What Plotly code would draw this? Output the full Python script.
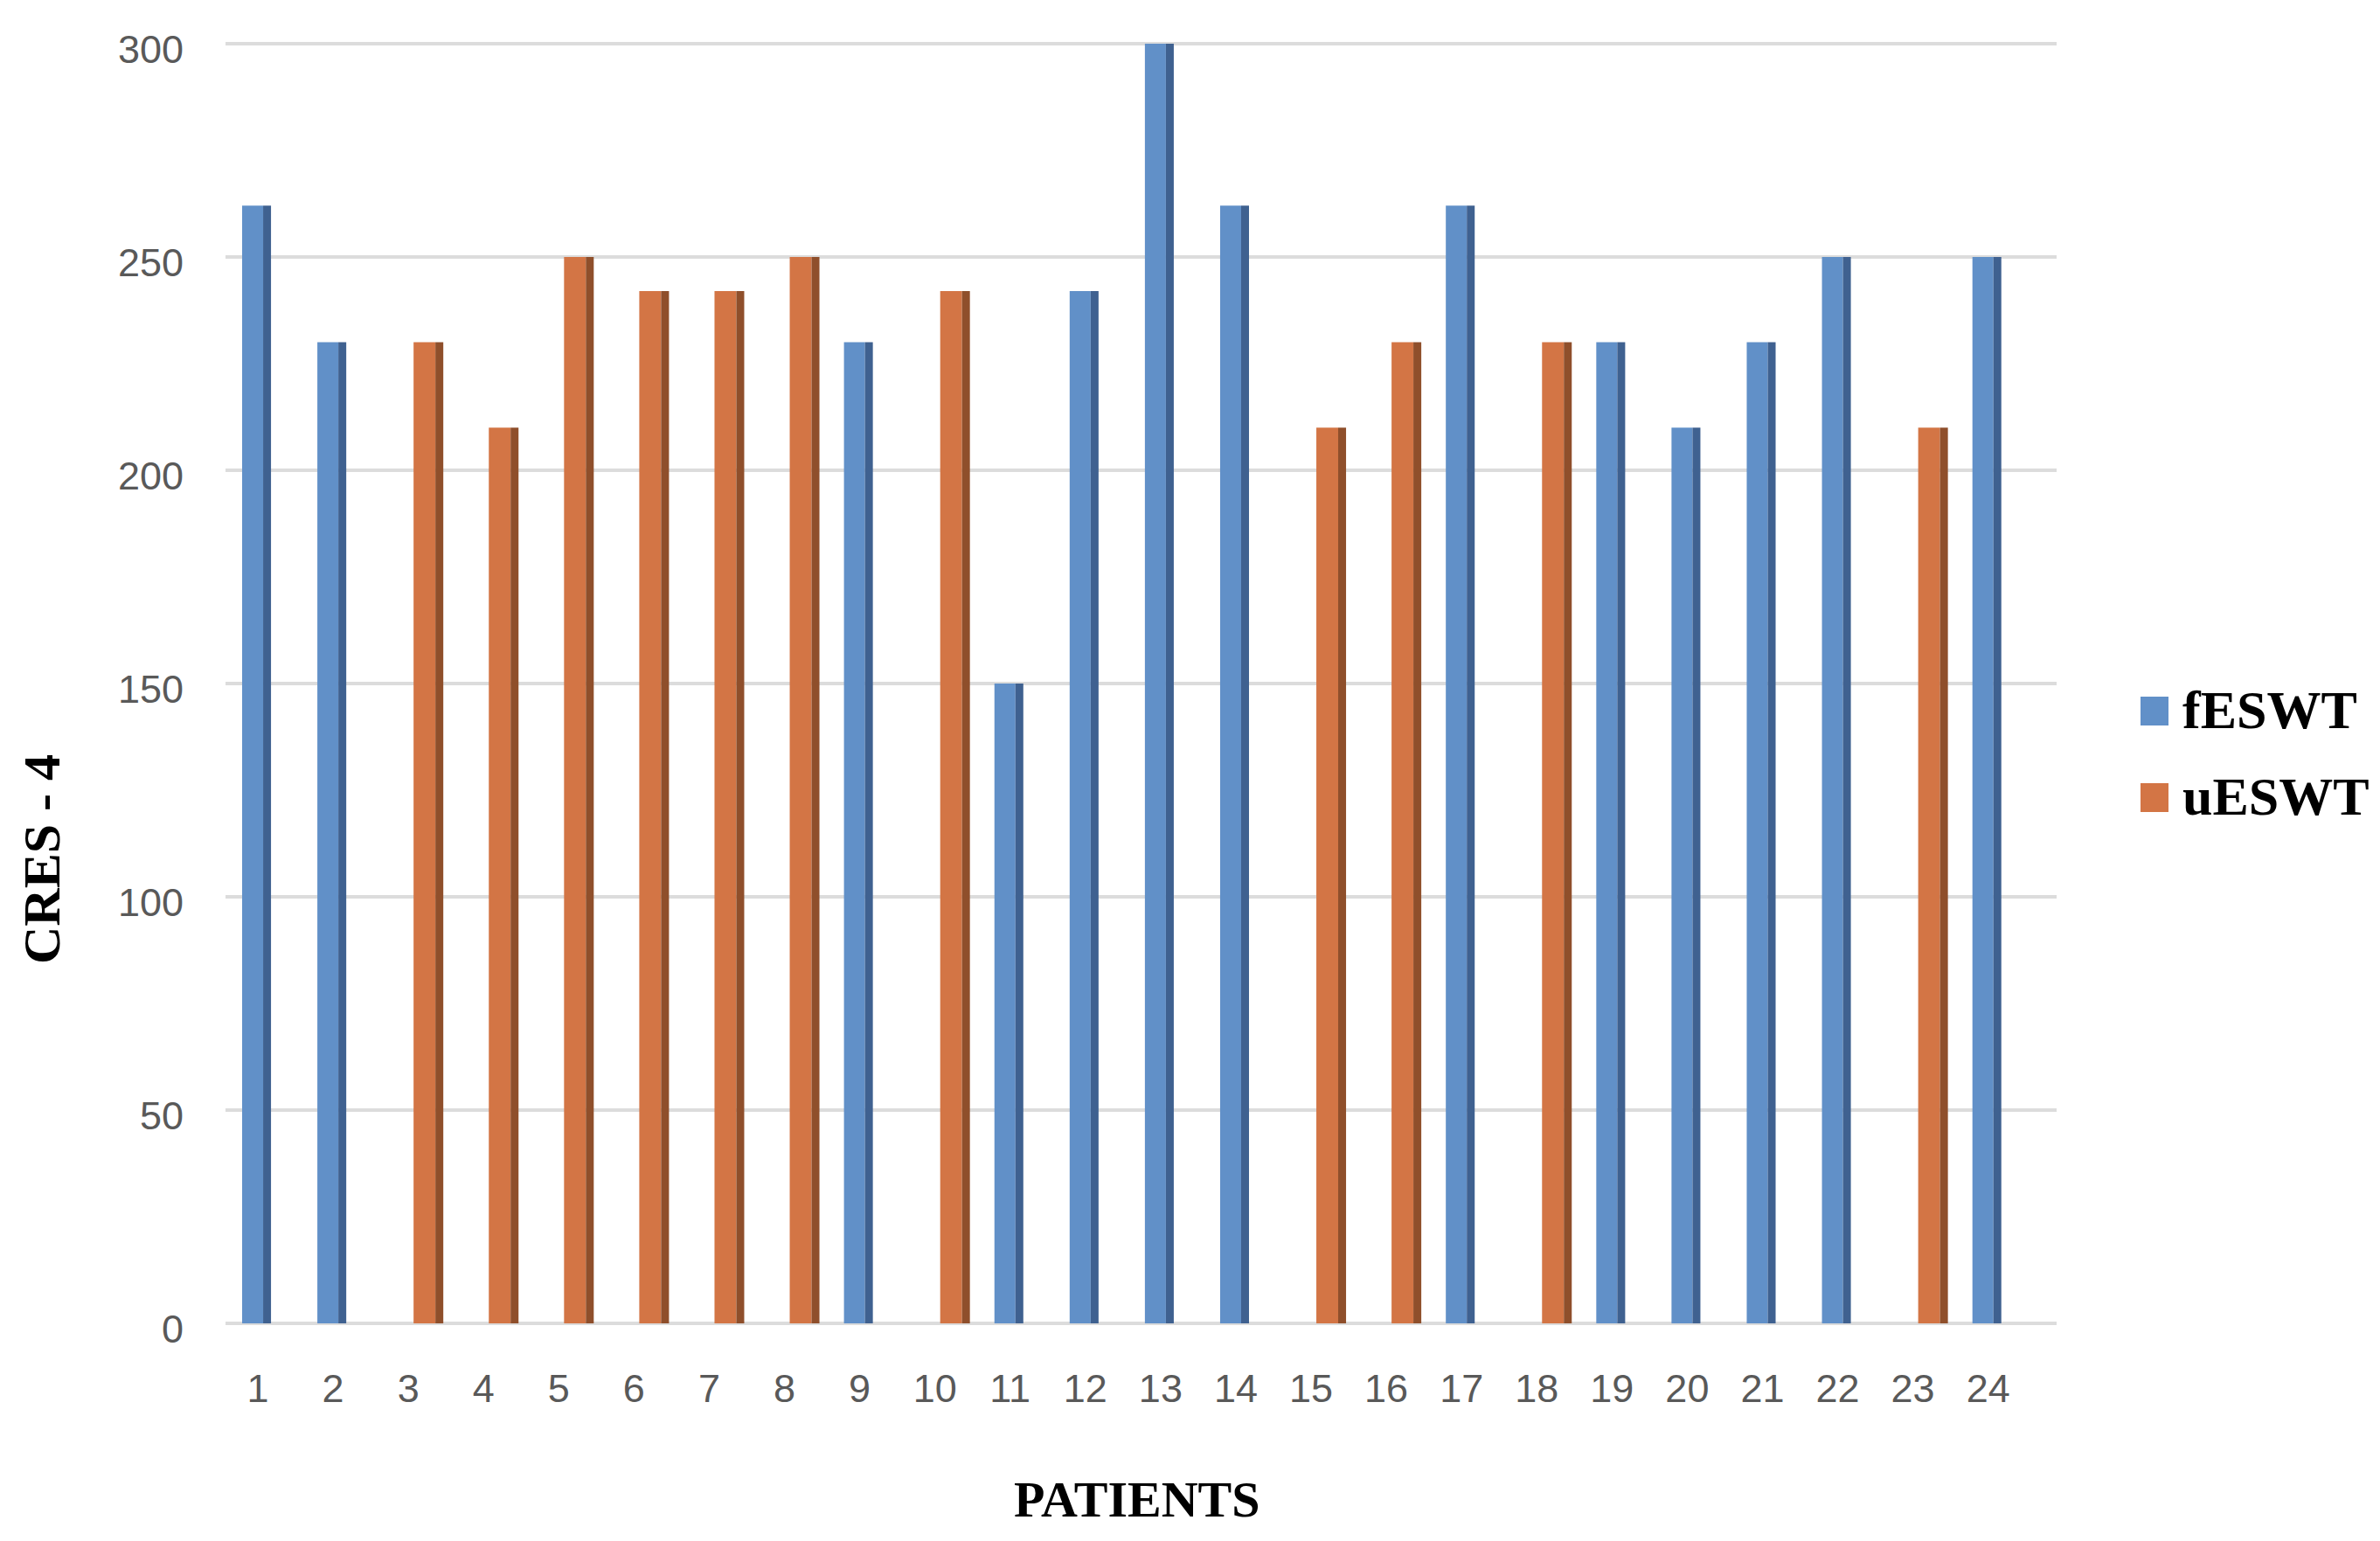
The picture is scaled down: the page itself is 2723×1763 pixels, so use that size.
import plotly.graph_objects as go

patients = list(range(1, 25))
series_names = ["fESWT", "uESWT"]
fESWT = [262, 230, 0, 0, 0, 0, 0, 0, 230, 0, 150, 242, 300, 262, 0, 0, 262, 0, 230, 210, 230, 250, 0, 250]
uESWT = [0, 0, 230, 210, 250, 242, 242, 250, 0, 242, 0, 0, 0, 0, 210, 230, 0, 230, 0, 0, 0, 0, 210, 0]
y_ticks = [0, 50, 100, 150, 200, 250, 300]
x_title = "PATIENTS"
y_title = "CRES - 4"

front_colors = ["#6190c8", "#d37545"]
side_colors = ["#3f6190", "#8f4f2b"]

fig = go.Figure()
# front faces
fig.add_trace(go.Bar(x=patients, y=fESWT, name=series_names[0], offset=-0.209, width=0.279,
                     marker=dict(color=front_colors[0], line=dict(width=0)), showlegend=False))
fig.add_trace(go.Bar(x=patients, y=uESWT, name=series_names[1], offset=0.07, width=0.29,
                     marker=dict(color=front_colors[1], line=dict(width=0)), showlegend=False))
# side faces (3D look)
fig.add_trace(go.Bar(x=patients, y=fESWT, name=series_names[0], offset=0.07, width=0.105,
                     marker=dict(color=side_colors[0], line=dict(width=0)), showlegend=False, hoverinfo="skip"))
fig.add_trace(go.Bar(x=patients, y=uESWT, name=series_names[1], offset=0.36, width=0.105,
                     marker=dict(color=side_colors[1], line=dict(width=0)), showlegend=False, hoverinfo="skip"))

W, H = 2723, 1763
L, R, T, B = 250, 2723 - 2345, 38, 1763 - 1510
pw, ph = W - L - R, H - T - B

def px(xp):
    return (xp - L) / pw

def py(yp):
    return (H - B - yp) / ph

shapes = []
annotations = []
legend_rows = [(789, 822, 804), (888, 921, 903)]
for i, name in enumerate(series_names):
    y0, y1, yc = legend_rows[i]
    shapes.append(dict(type="rect", xref="paper", yref="paper",
                       x0=px(2441), x1=px(2473), y0=py(y1), y1=py(y0),
                       fillcolor=front_colors[i], line=dict(width=0)))
    annotations.append(dict(text=name, xref="paper", yref="paper", x=px(2487), y=py(yc),
                            xanchor="left", yanchor="middle", showarrow=False,
                            font=dict(family="Liberation Serif", size=62, color="#000000", weight="bold")))

annotations.append(dict(text="<b>" + x_title + "</b>", xref="paper", yref="paper", x=px(1292), y=py(1707),
                        xanchor="center", yanchor="middle", showarrow=False,
                        font=dict(family="Liberation Serif", size=58, color="#000000")))
annotations.append(dict(text="<b>" + y_title + "</b>", xref="paper", yref="paper", x=px(40), y=py(975),
                        xanchor="center", yanchor="middle", showarrow=False, textangle=-90,
                        font=dict(family="Liberation Serif", size=60, color="#000000")))

fig.update_layout(
    width=W, height=H,
    margin=dict(l=L, r=R, t=T, b=B, pad=0),
    paper_bgcolor="white", plot_bgcolor="white",
    barmode="overlay",
    showlegend=False,
    shapes=shapes,
    annotations=annotations,
    xaxis=dict(range=[0.57, 24.91], tickmode="array", tickvals=patients, ticktext=[str(p) for p in patients],
               showgrid=False, zeroline=False, showline=False, ticks="",
               ticklabelstandoff=40,
               tickfont=dict(family="Liberation Sans", size=45, color="#595959")),
    yaxis=dict(range=[-0.8, 300.8], tickmode="array", tickvals=y_ticks,
               showgrid=True, gridcolor="#dcdcdc", gridwidth=4, zeroline=False, showline=False, ticks="",
               ticklabelstandoff=47, ticklabelshift=6,
               tickfont=dict(family="Liberation Sans", size=45, color="#595959")),
)

fig.write_html("out.html")
